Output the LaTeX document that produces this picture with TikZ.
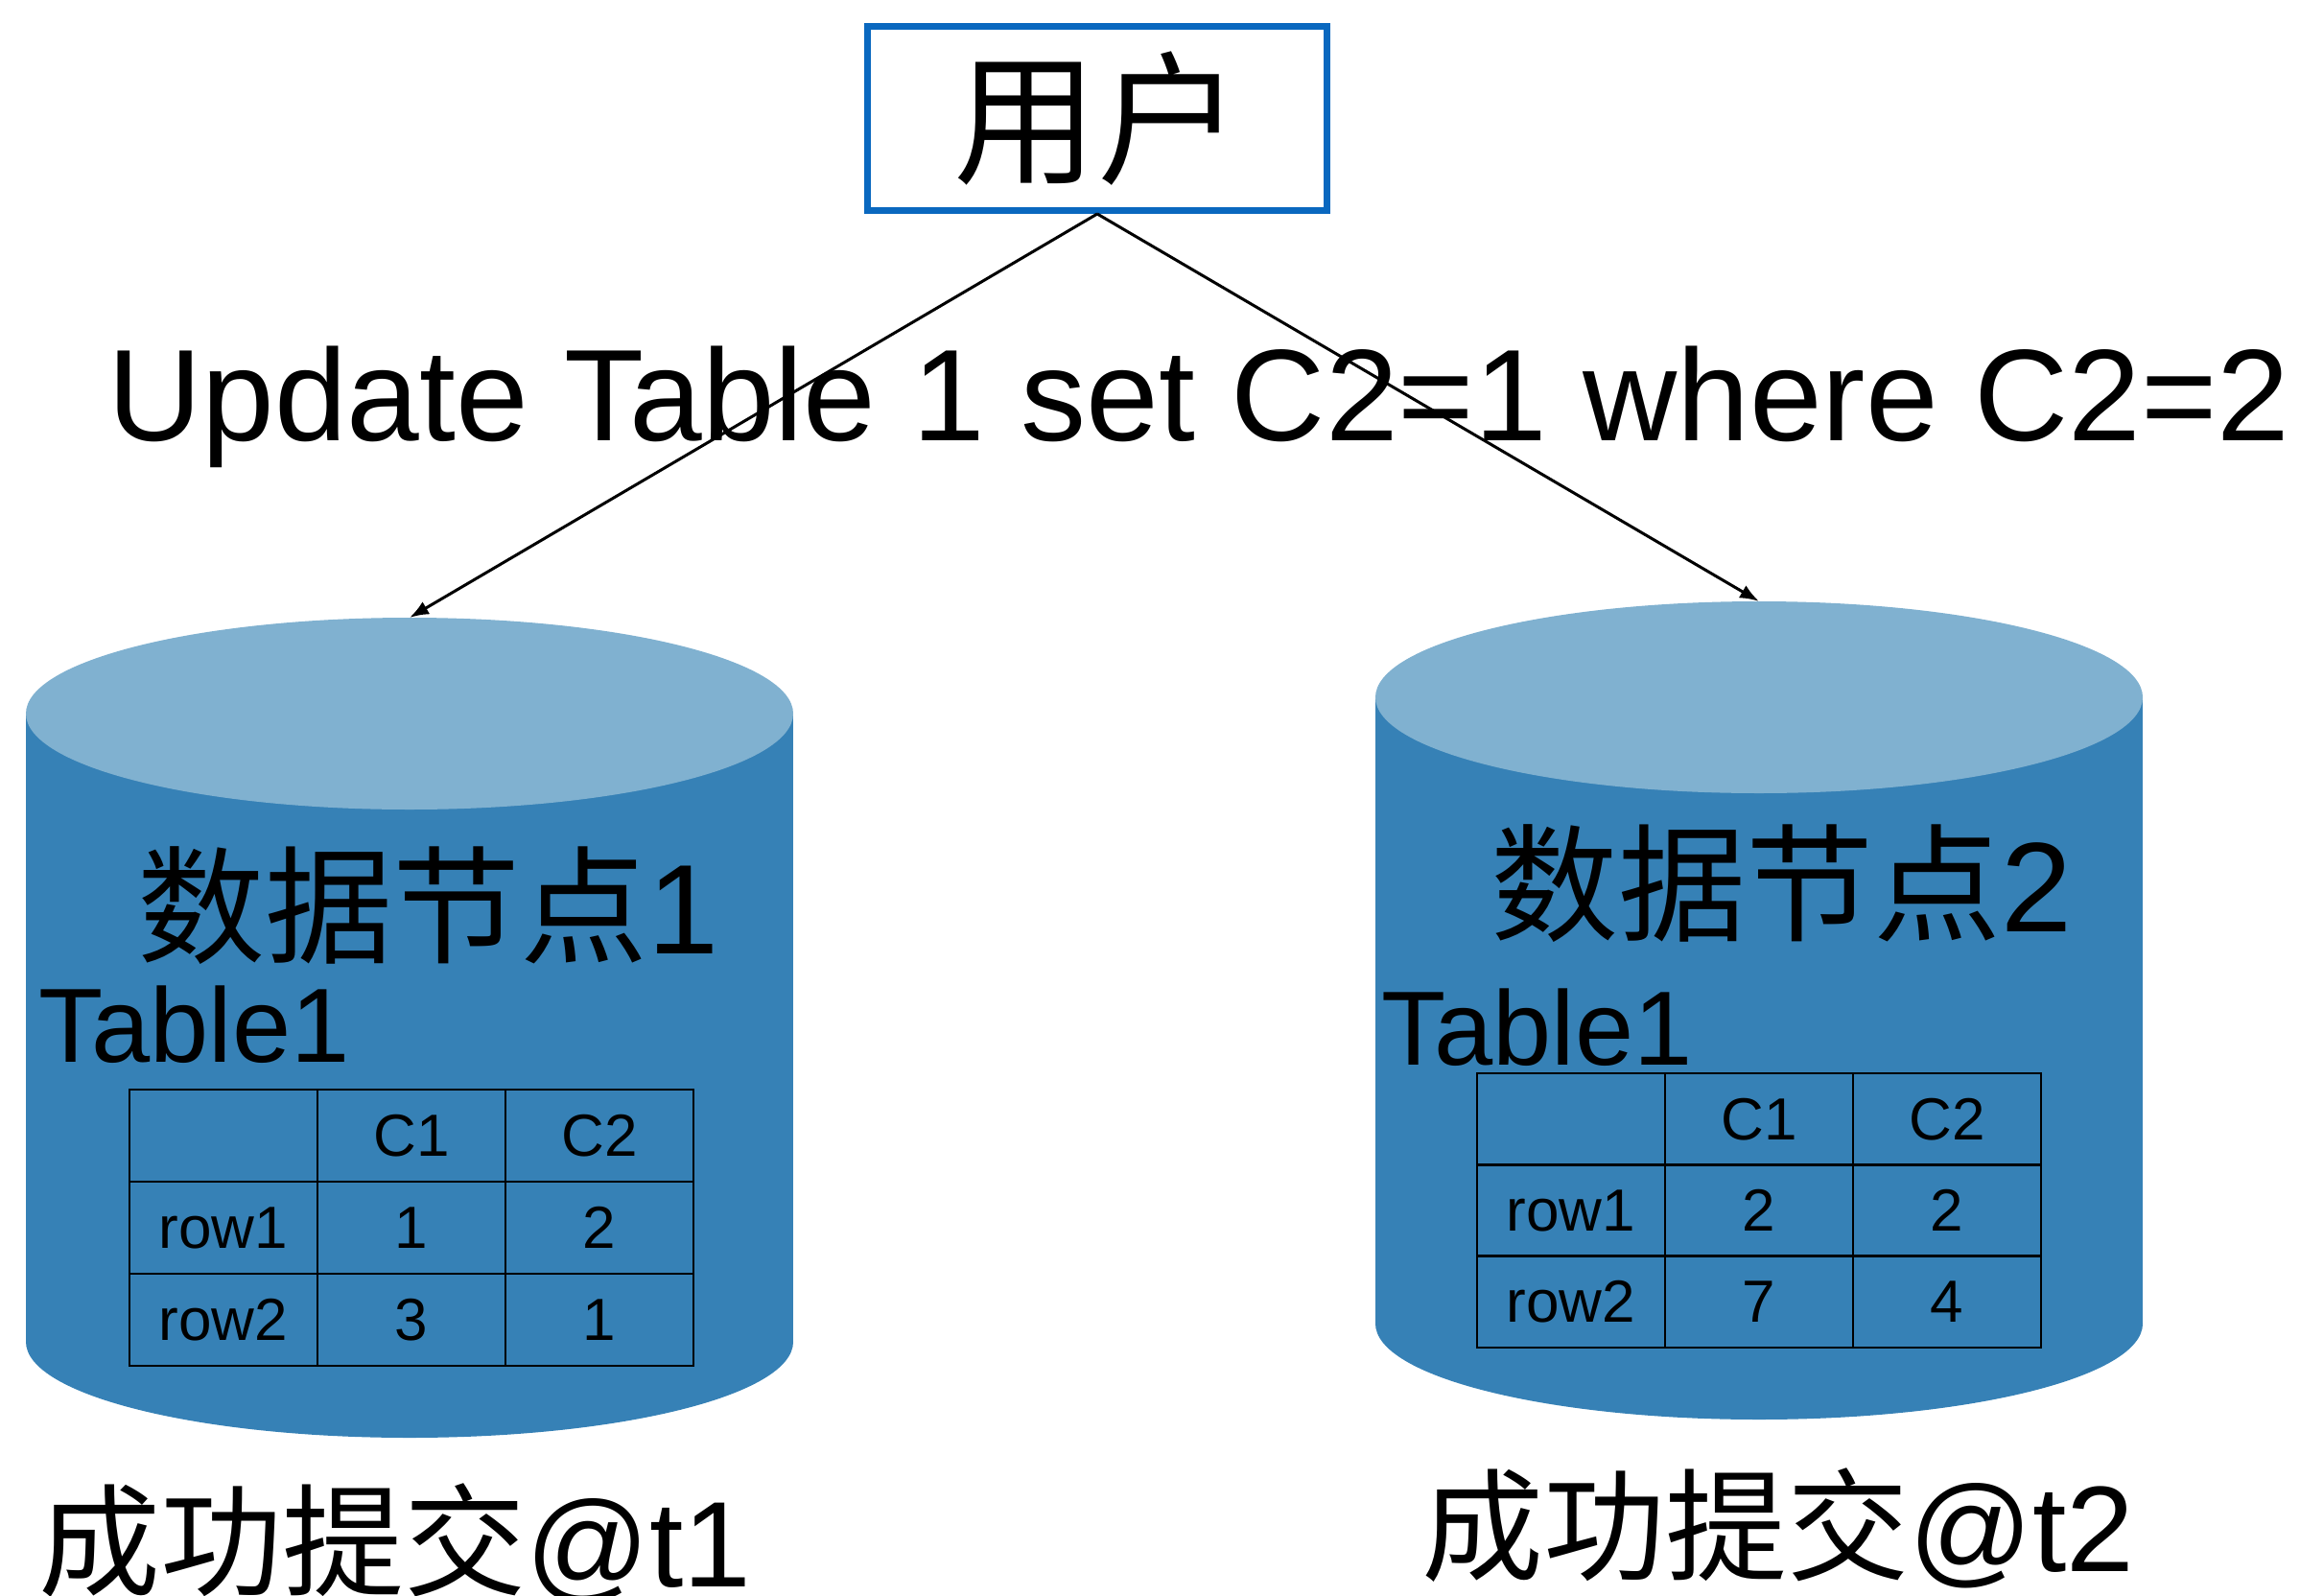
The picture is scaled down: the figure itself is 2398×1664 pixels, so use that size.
\documentclass[tikz,border=0pt]{standalone}
\usepackage{fontspec}
\setmainfont{Liberation Sans}
\newfontfamily\cjk{Noto Sans CJK SC}
\usetikzlibrary{arrows.meta}
\definecolor{boxblue}{HTML}{0A68BF}
\definecolor{cyltop}{HTML}{80B1D0}
\definecolor{cylside}{HTML}{3681B6}
\tikzset{
  arr/.style={line width=3pt,-{Latex[length=20pt,width=15pt]}},
  grid/.style={line width=2.5pt,black},
  cell/.style={inner sep=0pt,font=\fontsize{62}{70}\selectfont},
  big/.style={inner sep=0pt,font=\fontsize{136}{150}\selectfont},
  tbl/.style={inner sep=0pt,font=\fontsize{110}{120}\selectfont},
  dn/.style={inner sep=0pt,font=\fontsize{133}{150}\selectfont},
  ok/.style={inner sep=0pt,font=\fontsize{127}{140}\selectfont},
}
\begin{document}
\begin{tikzpicture}[x=1pt,y=-1pt]
\useasboundingbox (0,0) rectangle (2398,1664);
% user box
\node[draw=boxblue,line width=7pt,minimum width=479pt,minimum height=192pt,inner sep=0pt] (user) at (1144,123.5) {\fontsize{150}{160}\selectfont\cjk 用户};
% left cylinder
\fill[cylside] (27,744) rectangle (827,1399);
\fill[cylside] (427,1399) ellipse [x radius=400,y radius=100];
\fill[cyltop] (427,744) ellipse [x radius=400,y radius=100];
\coordinate (c1top) at (427,644);
% right cylinder
\fill[cylside] (1434,727) rectangle (2234,1380);
\fill[cylside] (1834,1380) ellipse [x radius=400,y radius=100];
\fill[cyltop] (1834,727) ellipse [x radius=400,y radius=100];
\coordinate (c2top) at (1834,627);
% arrows
\draw[arr] (user.south) -- (c1top);
\draw[arr] (user.south) -- (c2top);
% label
\node[big,anchor=base west] (upd) at (112,459) {Update Table 1 set C2=1 where C2=2};
% node titles
\node[dn] (dn1) at (446,944) {{\cjk 数据节点}1};
\node[dn] (dn2) at (1857,921) {{\cjk 数据节点}2};
\node[tbl,anchor=base west] (t1) at (40,1107) {Table1};
\node[tbl,anchor=base west] (t2) at (1440,1110) {Table1};
% left table
\draw[grid] (135,1136) rectangle (723,1424);
\draw[grid] (331,1136) -- (331,1424) (527,1136) -- (527,1424)
  (135,1232) -- (723,1232) (135,1328) -- (723,1328);
\node[cell] (l12) at (429,1184) {C1};
\node[cell] (l13) at (625,1184) {C2};
\node[cell] (l21) at (233,1280) {row1};
\node[cell] (l22) at (429,1280) {1};
\node[cell] (l23) at (625,1280) {2};
\node[cell] (l31) at (233,1376) {row2};
\node[cell] (l32) at (429,1376) {3};
\node[cell] (l33) at (625,1376) {1};
% right table
\draw[grid] (1540,1119) rectangle (2128,1405);
\draw[grid] (1736,1119) -- (1736,1405) (1932,1119) -- (1932,1405)
  (1540,1214.3) -- (2128,1214.3) (1540,1309.7) -- (2128,1309.7);
\node[cell] (r12) at (1834,1166.7) {C1};
\node[cell] (r13) at (2030,1166.7) {C2};
\node[cell] (r21) at (1638,1262) {row1};
\node[cell] (r22) at (1834,1262) {2};
\node[cell] (r23) at (2030,1262) {2};
\node[cell] (r31) at (1638,1357.3) {row2};
\node[cell] (r32) at (1834,1357.3) {7};
\node[cell] (r33) at (2030,1357.3) {4};
% commit labels
\node[ok,anchor=north west] (ok1) at (40,1546) {{\cjk 成功提交}@t1};
\node[ok,anchor=north west] (ok2) at (1482,1530) {{\cjk 成功提交}@t2};
\end{tikzpicture}
\end{document}
